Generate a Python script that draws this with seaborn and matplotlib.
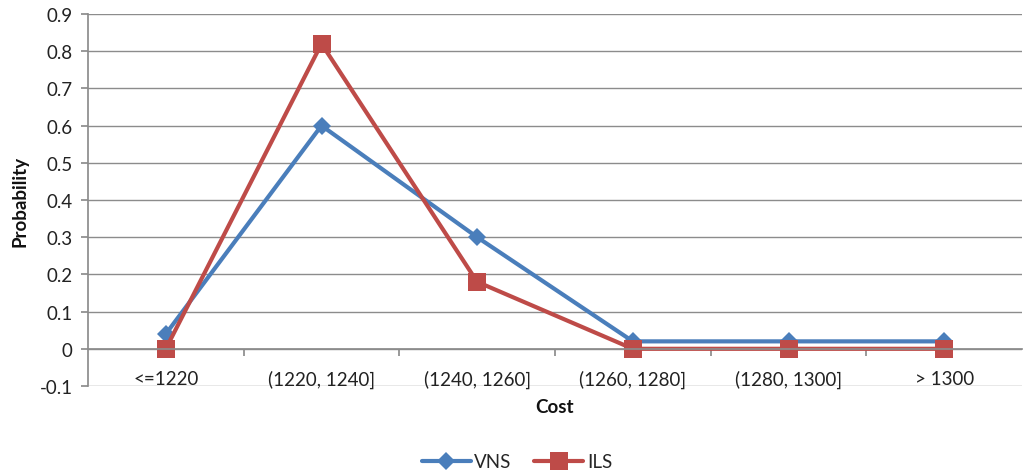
import matplotlib
matplotlib.use("Agg")
import matplotlib.pyplot as plt
import seaborn as sns
import pandas as pd

categories = ["<=1220", "(1220, 1240]", "(1240, 1260]", "(1260, 1280]", "(1280, 1300]", "> 1300"]
vns = [0.04, 0.60, 0.30, 0.02, 0.02, 0.02]
ils = [0.00, 0.82, 0.18, 0.00, 0.00, 0.00]
series_names = ["VNS", "ILS"]
yticks = [-0.1, 0.0, 0.1, 0.2, 0.3, 0.4, 0.5, 0.6, 0.7, 0.8, 0.9]
ytick_labels = ["-0.1", "0", "0.1", "0.2", "0.3", "0.4", "0.5", "0.6", "0.7", "0.8", "0.9"]

df = pd.DataFrame({
    "pos": list(range(len(categories))) * 2,
    "Probability": vns + ils,
    "Series": [series_names[0]] * len(vns) + [series_names[1]] * len(ils),
})

sns.set_theme(style="white")
plt.rcParams["font.family"] = ["Lato", "DejaVu Sans"]
FS = 13.5

fig = plt.figure(figsize=(10.24, 4.77), dpi=100)
ax = fig.add_axes([88 / 1024, 90 / 477, (1022 - 88) / 1024, (387 - 15) / 477])

palette = {"VNS": "#4A7EBB", "ILS": "#BE4B48"}
markers = {"VNS": "D", "ILS": "s"}
sns.lineplot(data=df, x="pos", y="Probability", hue="Series", style="Series",
             markers=markers, dashes=False, palette=palette, linewidth=3,
             markersize=10, markeredgewidth=0, ax=ax, legend=True)
for line in ax.lines:
    if line.get_marker() == "s":
        line.set_markersize(12.5)
    elif line.get_marker() == "D":
        line.set_markersize(9)

ax.set_xlim(-0.5, len(categories) - 0.5)
ax.set_ylim(-0.1, 0.9)
ax.set_yticks(yticks)
ax.set_yticklabels(ytick_labels, fontsize=FS, color="#222222")
ax.yaxis.grid(True, color="#8C8C8C", linewidth=1)
ax.set_axisbelow(True)

for s in ["top", "right"]:
    ax.spines[s].set_visible(False)
ax.spines["left"].set_color("#8C8C8C")
ax.spines["bottom"].set_color("#8C8C8C")
ax.spines["bottom"].set_position(("data", 0))
ax.tick_params(axis="y", which="both", left=True, length=5, color="#8C8C8C", pad=6)
ax.set_xticks([i + 0.5 for i in range(len(categories) - 1)])
ax.set_xticklabels([])
ax.tick_params(axis="x", bottom=True, length=5, color="#8C8C8C", direction="out")

for i, c in enumerate(categories):
    ax.text(i, -0.08, c, ha="center", va="center", fontsize=FS, color="#222222")

ax.set_xlabel("")
ax.text(0.5, -0.055, "Cost", transform=ax.transAxes, ha="center", va="center",
        fontsize=FS, fontweight="bold", color="#111111")
ax.set_ylabel("Probability", fontsize=FS, fontweight="bold", color="#111111", labelpad=8)

handles, labels = ax.get_legend_handles_labels()
ax.legend(handles, labels, loc="center", ncol=2, frameon=False, fontsize=FS,
          handlelength=2.6, columnspacing=1.2, handletextpad=0.2)
leg = ax.get_legend()
leg.set_bbox_to_anchor((517 / 1024, 1 - 463 / 477), transform=fig.transFigure)

fig.savefig("out.png", dpi=100, facecolor="white")
